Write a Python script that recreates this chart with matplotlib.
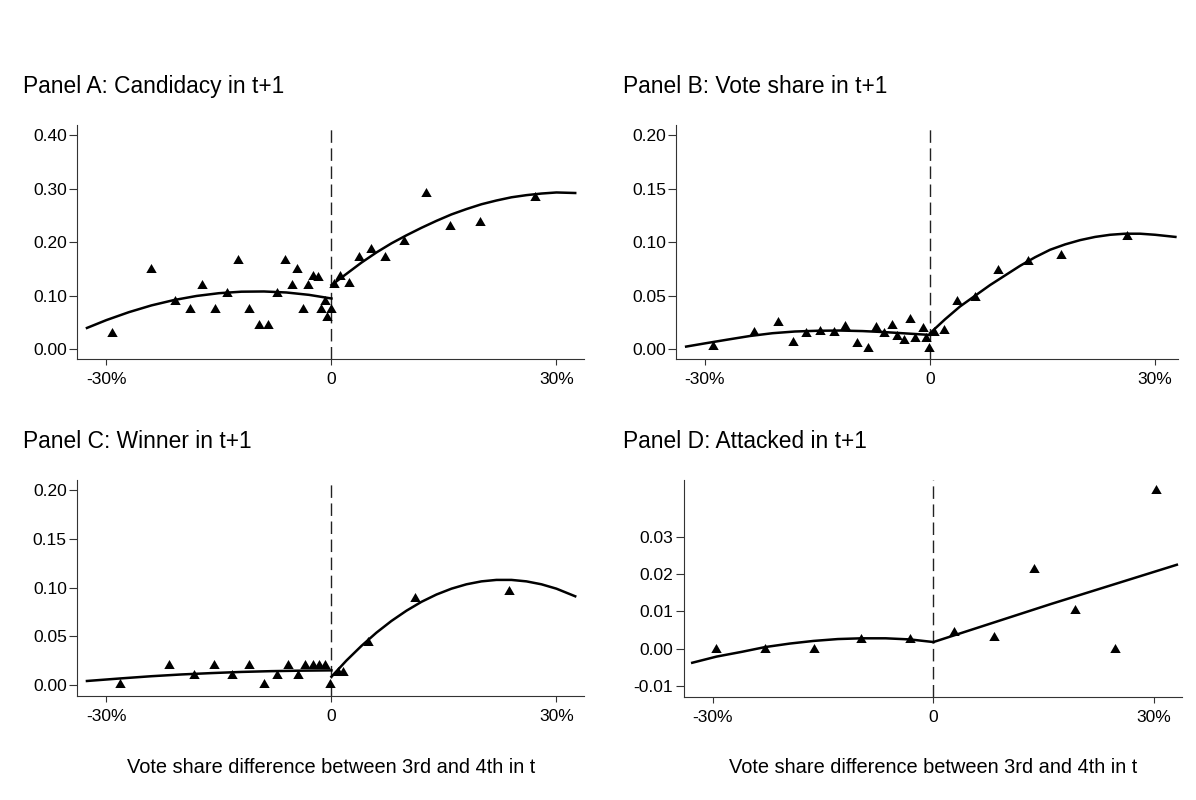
import matplotlib.pyplot as plt

plt.rcParams['font.family'] = ['Liberation Sans', 'DejaVu Sans']

W, H = 1196, 800

X_TICKS = [-30, 0, 30]
X_TICK_LABELS = ['-30%', '0', '30%']
X_LABEL = 'Vote share difference between 3rd and 4th in t'

# Panel A: Candidacy in t+1 (binned means, x in %)
a_x = [-29.2, -24.0, -20.9, -18.9, -17.2, -15.5, -13.9, -12.4, -11.0, -9.6, -8.4, -7.3,
       -6.2, -5.3, -4.6, -3.8, -3.1, -2.4, -1.8, -1.4, -0.8, -0.55, -0.1,
       0.4, 1.2, 2.4, 3.7, 5.3, 7.2, 9.7, 12.6, 15.8, 19.8, 27.2]
a_y = [0.032, 0.152, 0.093, 0.077, 0.122, 0.078, 0.107, 0.169, 0.077, 0.047, 0.047, 0.107,
       0.169, 0.122, 0.152, 0.078, 0.122, 0.139, 0.137, 0.077, 0.093, 0.062, 0.077,
       0.123, 0.139, 0.126, 0.174, 0.189, 0.175, 0.204, 0.294, 0.232, 0.240, 0.287]
a_fit_left_x = [-32.6, -30, -27, -24, -21, -18, -15, -12, -9, -6, -3, 0]
a_fit_left_y = [0.040, 0.0547, 0.0695, 0.0821, 0.0921, 0.0997, 0.1049, 0.1077, 0.1081, 0.1062, 0.1018, 0.095]
a_fit_right_x = [0, 2, 4, 6, 8, 10, 12, 14, 16, 18, 20, 22, 24, 26, 28, 30, 32.5]
a_fit_right_y = [0.120, 0.141, 0.162, 0.181, 0.198, 0.213, 0.227, 0.240, 0.252, 0.262, 0.271,
                 0.278, 0.284, 0.288, 0.291, 0.293, 0.292]
a_yticks = [0.0, 0.1, 0.2, 0.3, 0.4]

# Panel B: Vote share in t+1
b_x = [-28.9, -23.4, -20.3, -18.3, -16.5, -14.6, -12.8, -11.3, -9.7, -8.3, -7.2, -6.1,
       -5.1, -4.4, -3.5, -2.7, -2.0, -1.0, -0.5, -0.15,
       0.5, 1.8, 3.6, 6.0, 9.1, 13.0, 17.5, 26.3]
b_y = [0.0037, 0.0168, 0.026, 0.0078, 0.016, 0.018, 0.0174, 0.0227, 0.0072, 0.0019, 0.0218, 0.016,
       0.0236, 0.013, 0.010, 0.0296, 0.0112, 0.0205, 0.0118, 0.0019,
       0.017, 0.019, 0.0457, 0.0495, 0.075, 0.083, 0.0887, 0.1067]
b_fit_left_x = [-32.5, -30, -27, -24, -21, -18, -15, -12, -9, -6, -3, 0]
b_fit_left_y = [0.0025, 0.0055, 0.0090, 0.0124, 0.0150, 0.0166, 0.0173, 0.0175, 0.0170, 0.0160, 0.0147, 0.0134]
b_fit_right_x = [0, 2, 4, 6, 8, 10, 12, 14, 16, 18, 20, 22, 24, 26, 28, 30, 32.7]
b_fit_right_y = [0.015, 0.028, 0.040, 0.050, 0.060, 0.069, 0.078, 0.086, 0.093, 0.098, 0.102,
                 0.105, 0.107, 0.108, 0.108, 0.107, 0.105]
b_yticks = [0.0, 0.05, 0.10, 0.15, 0.20]

# Panel C: Winner in t+1
c_x = [-28.2, -21.7, -18.3, -15.7, -13.2, -11.0, -9.0, -7.3, -5.8, -4.5, -3.5, -2.4, -1.6, -0.8, -0.2,
       0.9, 1.5, 4.9, 11.1, 23.7]
c_y = [0.0017, 0.0212, 0.0113, 0.0212, 0.0113, 0.0212, 0.0017, 0.0113, 0.0212, 0.0113, 0.0212,
       0.0212, 0.0212, 0.0212, 0.0017,
       0.0147, 0.0147, 0.0455, 0.090, 0.0975]
c_fit_left_x = [-32.6, -28, -24, -20, -16, -12, -8, -4, 0]
c_fit_left_y = [0.0041, 0.0068, 0.0090, 0.0108, 0.0122, 0.0134, 0.0142, 0.0147, 0.0150]
c_fit_right_x = [0, 2, 4, 6, 8, 10, 12, 14, 16, 18, 20, 22, 24, 26, 28, 30, 32.5]
c_fit_right_y = [0.0085, 0.0251, 0.0401, 0.0537, 0.0657, 0.0762, 0.0853, 0.0928, 0.0988, 0.1033,
                 0.1063, 0.1078, 0.1078, 0.1063, 0.1033, 0.0988, 0.0910]
c_yticks = [0.0, 0.05, 0.10, 0.15, 0.20]

# Panel D: Attacked in t+1
d_x = [-29.5, -22.9, -16.3, -9.8, -3.2, 2.8, 8.3, 13.7, 19.2, 24.7, 30.2]
d_y = [0.0001, 0.0001, 0.0001, 0.0030, 0.0030, 0.0047, 0.0034, 0.0216, 0.0107, 0.0001, 0.0427]
d_fit_left_x = [-32.8, -29.5, -26, -22.9, -19.5, -16.3, -13, -9.8, -6.5, -3.2, 0]
d_fit_left_y = [-0.00375, -0.0021, -0.0008, 0.00045, 0.0014, 0.0021, 0.0026, 0.0028, 0.0028, 0.0025, 0.0018]
d_fit_right_x = [0, 16, 33.1]
d_fit_right_y = [0.0018, 0.0120, 0.0225]
d_yticks = [-0.01, 0.0, 0.01, 0.02, 0.03]

TRIANGLE = [(-1, -0.866), (1, -0.866), (0, 0.866)]
SPINE_COLOR = '#333333'


def px_rect(left, right, top, bottom):
	"""pixel box -> figure fraction rect"""
	return [left / W, 1 - bottom / H, (right - left) / W, (bottom - top) / H]


def draw_panel(fig, rect, xs, ys, lx, ly, rx, ry, xlim, ylim, yticks):
	ax = fig.add_axes(rect)
	ax.axvline(0, color='#222222', lw=1.0, dashes=(9, 4), zorder=1)
	ax.plot(lx, ly, color='black', lw=1.8, zorder=2)
	ax.plot(rx, ry, color='black', lw=1.8, zorder=2)
	ax.plot(xs, ys, linestyle='none', marker=TRIANGLE, ms=7.5, color='black', mew=0, zorder=3)
	ax.set_xlim(*xlim)
	ax.set_ylim(*ylim)
	ax.set_xticks(X_TICKS)
	ax.set_xticklabels(X_TICK_LABELS)
	ax.set_yticks(yticks)
	ax.set_yticklabels([f'{v:.2f}' for v in yticks])
	for side in ['top', 'right']:
		ax.spines[side].set_visible(False)
	for side in ['left', 'bottom']:
		ax.spines[side].set_color(SPINE_COLOR)
		ax.spines[side].set_linewidth(0.8)
	ax.tick_params(direction='out', width=0.8, color=SPINE_COLOR, labelsize=12.5)
	ax.tick_params(axis='x', length=4.5, pad=5)
	ax.tick_params(axis='y', length=5.5, pad=2)
	ax.patch.set_visible(False)
	return ax


def main():
	fig = plt.figure(figsize=(W / 100, H / 100), dpi=100)

	draw_panel(fig, px_rect(77.2, 584.2, 125, 359), a_x, a_y,
	           a_fit_left_x, a_fit_left_y, a_fit_right_x, a_fit_right_y,
	           (-33.9, 33.7), (-0.018, 0.419), a_yticks)
	draw_panel(fig, px_rect(676.4, 1178.4, 125, 359), b_x, b_y,
	           b_fit_left_x, b_fit_left_y, b_fit_right_x, b_fit_right_y,
	           (-33.8, 33.1), (-0.0091, 0.2096), b_yticks)
	draw_panel(fig, px_rect(77.2, 584.2, 480, 696), c_x, c_y,
	           c_fit_left_x, c_fit_left_y, c_fit_right_x, c_fit_right_y,
	           (-33.9, 33.7), (-0.0113, 0.2103), c_yticks)
	draw_panel(fig, px_rect(683.7, 1182, 480, 697.3), d_x, d_y,
	           d_fit_left_x, d_fit_left_y, d_fit_right_x, d_fit_right_y,
	           (-33.96, 33.8), (-0.0130, 0.0452), d_yticks)

	titles = [('Panel A: Candidacy in t+1', 22.7, 93.3),
	          ('Panel B: Vote share in t+1', 622.7, 93.3),
	          ('Panel C: Winner in t+1', 22.7, 448.3),
	          ('Panel D: Attacked in t+1', 622.7, 448.3)]
	for text, x, y in titles:
		fig.text(x / W, 1 - y / H, text, fontsize=16.4, va='baseline', ha='left')

	for cx in [331.4, 932.9]:
		fig.text(cx / W, 1 - 773.3 / H, X_LABEL, fontsize=14.4, va='baseline', ha='center')

	fig.savefig('out.png', dpi=100, facecolor='white')
	plt.close(fig)


if __name__ == '__main__':
	main()
